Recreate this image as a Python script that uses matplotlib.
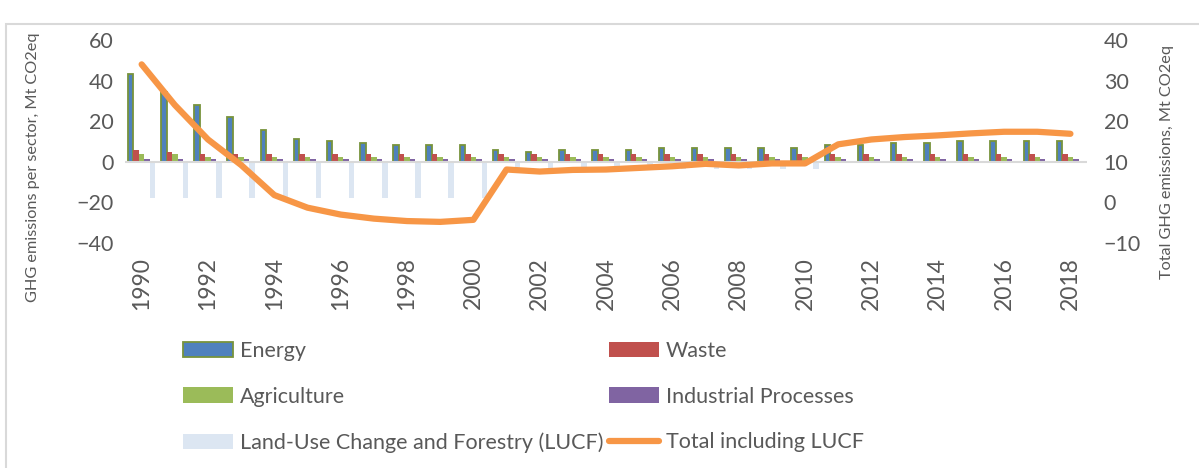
import matplotlib.pyplot as plt
import numpy as np
from matplotlib.patches import Rectangle, Patch
from matplotlib.lines import Line2D

plt.rcParams['font.family'] = ['Lato', 'DejaVu Sans']

years = list(range(1990, 2019))
energy = [43.5, 34.5, 28, 22, 15.5, 11.3, 10.2, 9.2, 8.2, 8.2, 8.2, 6, 5, 6, 6, 6, 7, 7, 7, 7, 7,
          8.2, 8.2, 9.2, 9.2, 10.2, 10.2, 10.2, 10.2]
waste = [6, 4.7] + [3.6] * 27
agriculture = [3.6, 3.6] + [2.6] * 27
industrial = [1.2] * 29
lucf = [-18] * 11 + [-3.5] * 10 + [-0.5] * 8
total = [34, 24, 15.5, 9.2, 1.8, -1.3, -3, -4, -4.6, -4.8, -4.3, 8.1, 7.6, 8.0, 8.1, 8.5,
         8.9, 9.5, 9.1, 9.6, 9.6, 14.3, 15.5, 16.1, 16.5, 17, 17.4, 17.4, 16.9]

grey = '#595959'
c_energy, c_energy_edge = '#4F81BD', '#77933C'
c_waste, c_agri, c_ind, c_lucf = '#C0504D', '#9BBB59', '#8064A2', '#DCE6F2'
c_total = '#F79646'

fig = plt.figure(figsize=(11.99, 4.68), dpi=100)
ax = fig.add_axes([0.1043, 0.4808, 0.8023, 0.4337])

x = np.arange(len(years))
w = 0.165
ax.bar(x - 2 * w, energy, w, color=c_energy, edgecolor=c_energy_edge, linewidth=1.3, zorder=2)
ax.bar(x - w, waste, w, color=c_waste, zorder=2)
ax.bar(x, agriculture, w, color=c_agri, zorder=2)
ax.bar(x + w, industrial, w, color=c_ind, zorder=2)
ax.bar(x + 2 * w, lucf, w, color=c_lucf, zorder=2)
ax.axhline(0, color='#D9D9D9', linewidth=1.5, zorder=3)

ax.set_xlim(-0.5, len(years) - 0.5)
ax.set_ylim(-40, 60)
ax.set_yticks(range(-40, 61, 20))
ax.set_xticks(x[::2])
ax.set_xticklabels([str(y) for y in years[::2]], rotation=90)
for s in ax.spines.values():
    s.set_visible(False)
ax.tick_params(axis='both', length=0, colors=grey, labelsize=15.5)
ax.tick_params(axis='x', pad=10, labelsize=16.5)
ax.tick_params(axis='y', pad=8)
ax.set_ylabel('GHG emissions per sector, Mt CO2eq', color=grey, fontsize=11.7)
ax.yaxis.set_label_coords(-0.088, 0.374)

ax2 = ax.twinx()
ax2.plot(x, total, color=c_total, linewidth=4.5, solid_capstyle='round', zorder=5)
ax2.set_ylim(-10, 40)
ax2.set_yticks(range(-10, 41, 10))
for s in ax2.spines.values():
    s.set_visible(False)
ax2.tick_params(axis='y', length=0, colors=grey, labelsize=15.5, pad=12)
ax2.set_ylabel('Total GHG emissions, Mt CO2eq', color=grey, fontsize=11.7)
ax2.yaxis.set_label_coords(1.076, 0.40)

handles = [
    Patch(facecolor=c_energy, edgecolor=c_energy_edge, linewidth=1.3, label='Energy'),
    Patch(facecolor=c_agri, label='Agriculture'),
    Patch(facecolor=c_lucf, label='Land-Use Change and Forestry (LUCF)'),
    Patch(facecolor=c_waste, label='Waste'),
    Patch(facecolor=c_ind, label='Industrial Processes'),
    Line2D([0], [0], color=c_total, linewidth=4.5, solid_capstyle='round', label='Total including LUCF'),
]
leg = fig.legend(handles=handles, ncol=2, loc='upper left', bbox_to_anchor=(0.1526, 0.272),
                 frameon=False, fontsize=15.5, handlelength=2.33, handleheight=0.7,
                 handletextpad=0.3, labelspacing=1.2, columnspacing=0.28,
                 borderpad=0, borderaxespad=0)
for t in leg.get_texts():
    t.set_color(grey)

# chart frame
fig.patches.append(Rectangle((6 / 1199, -0.1), 1.2, 1 - 24 / 468 + 0.1, transform=fig.transFigure,
                             fill=False, edgecolor='#D9D9D9', linewidth=1.5))

fig.savefig('out.png', dpi=100)
